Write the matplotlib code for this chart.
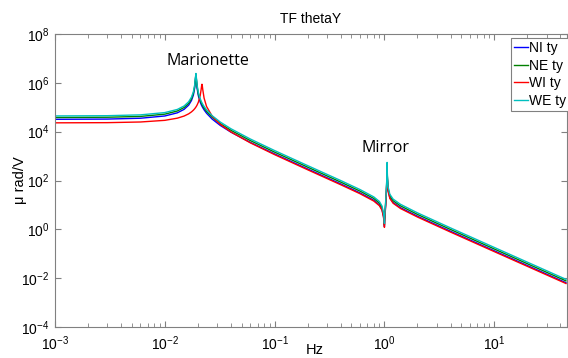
import matplotlib
matplotlib.use("Agg")
from matplotlib import pyplot as plt
from matplotlib.ticker import LogLocator, NullLocator

# frequency points (Hz)
freq = [0.001, 0.003, 0.006, 0.01, 0.013, 0.015, 0.0165, 0.0175, 0.0182, 0.0187,
        0.019, 0.0192, 0.0194, 0.0197, 0.0202, 0.021, 0.0214, 0.0217, 0.0218, 0.0219,
        0.0222, 0.0228, 0.024, 0.027, 0.032, 0.04, 0.06, 0.1, 0.2, 0.4,
        0.6, 0.8, 0.9, 0.95, 0.98, 0.995, 1.0, 1.005, 1.02, 1.04,
        1.052, 1.058, 1.064, 1.08, 1.12, 1.2, 1.4, 2, 4, 10,
        20, 45]

ni_ty = [3.21e4, 3.28e4, 3.55e4, 4.39e4, 5.91e4, 8.21e4, 1.224e5, 1.891e5, 3.13e5, 6.02e5,
         1.277e6, 2.24e6, 1.254e6, 5.86e5, 2.96e5, 1.63e5, 1.32e5, 1.152e5, 1.106e5, 1.063e5,
         9.50e4, 7.80e4, 5.69e4, 3.27e4, 1.80e4, 9.58e3, 3.65e3, 1.224e3, 296, 72.4,
         30.9, 15.5, 10.0, 6.58, 3.49, 2.0, 1.29, 2.33, 6.51, 26.4,
         98.2, 400, 118.8, 40.1, 19.8, 12.6, 7.69, 3.44, 0.832, 0.1322,
         0.0330, 0.00652]

ne_ty = [3.81e4, 3.90e4, 4.21e4, 5.21e4, 7.02e4, 9.75e4, 1.453e5, 2.246e5, 3.71e5, 7.05e5,
         1.436e6, 2.28e6, 1.410e6, 6.86e5, 3.52e5, 1.934e5, 1.569e5, 1.368e5, 1.314e5, 1.262e5,
         1.128e5, 9.26e4, 6.76e4, 3.89e4, 2.14e4, 1.138e4, 4.34e3, 1.453e3, 352, 86.0,
         36.7, 18.4, 11.9, 7.81, 4.14, 2.37, 1.53, 2.76, 7.73, 31.3,
         116.6, 475, 141, 47.6, 23.6, 14.9, 9.13, 4.08, 0.988, 0.157,
         0.0392, 0.00774]

wi_ty = [2.30e4, 2.34e4, 2.49e4, 2.91e4, 3.57e4, 4.37e4, 5.38e4, 6.47e4, 7.57e4, 8.67e4,
         9.52e4, 1.020e5, 1.098e5, 1.244e5, 1.603e5, 3.01e5, 5.16e5, 8.28e5, 8.74e5, 8.21e5,
         5.04e5, 2.35e5, 1.074e5, 4.31e4, 1.992e4, 9.72e3, 3.50e3, 1.147e3, 275, 67.1,
         28.7, 14.4, 9.28, 6.10, 3.23, 1.84, 1.2, 2.15, 6.03, 24.4,
         91.0, 370, 110, 37.1, 18.4, 11.7, 7.13, 3.19, 0.771, 0.1225,
         0.0306, 0.00604]

we_ty = [4.41e4, 4.51e4, 4.88e4, 6.04e4, 8.13e4, 1.129e5, 1.683e5, 2.60e5, 4.28e5, 8.10e5,
         1.60e6, 2.42e6, 1.575e6, 7.88e5, 4.07e5, 2.24e5, 1.817e5, 1.584e5, 1.521e5, 1.462e5,
         1.306e5, 1.073e5, 7.82e4, 4.50e4, 2.475e4, 1.317e4, 5.02e3, 1.683e3, 407, 99.6,
         42.5, 21.3, 13.8, 9.05, 4.80, 2.74, 1.77, 3.19, 8.95, 36.3,
         135, 550, 163, 55.1, 27.3, 17.3, 10.6, 4.73, 1.144, 0.1818,
         0.0454, 0.00896]

labels = ["NI ty", "NE ty", "WI ty", "WE ty"]
colors = ["#0000ff", "#008000", "#ff0000", "#00bfbf"]

plt.rcParams['font.family'] = ['Liberation Sans', 'DejaVu Sans']
plt.rcParams['mathtext.default'] = 'regular'

fig = plt.figure(figsize=(5.68, 3.58), dpi=100)
ax = fig.add_axes([55 / 568, 1 - 327 / 358, 512 / 568, 293 / 358])

for vals, lab, col in zip([ni_ty, ne_ty, wi_ty, we_ty], labels, colors):
    ax.loglog(freq, vals, color=col, lw=1.0, label=lab)

ax.set_xlim(1e-3, 46)
ax.set_ylim(1e-4, 1e8)
ax.set_yticks([1e-4, 1e-2, 1e0, 1e2, 1e4, 1e6, 1e8])
ax.yaxis.set_minor_locator(NullLocator())
ax.xaxis.set_major_locator(LogLocator(base=10, numticks=20))
ax.xaxis.set_minor_locator(LogLocator(base=10, subs=range(2, 10), numticks=20))

for sp in ax.spines.values():
    sp.set_color("#808080")
    sp.set_linewidth(0.8)
ax.tick_params(which='both', direction='in', top=True, right=True, color="#808080",
               labelsize=10, labelcolor='black')
ax.tick_params(axis='x', pad=5)
ax.tick_params(axis='y', pad=4)
ax.tick_params(which='major', length=4)
ax.tick_params(which='minor', length=3)

ax.set_title("TF thetaY", fontsize=10, pad=8)
ax.set_xlabel("Hz", fontsize=10.5, va='center')
ax.xaxis.set_label_coords(0.508, -0.078)
ax.set_ylabel("μ rad/V", fontsize=10.5, va='center')
ax.yaxis.set_label_coords(-0.068, 0.5)

# peak annotations
ax.text(0.0246, 7.5e6, "Marionette", fontsize=11.5, family="Open Sans", ha='center', va='center')
ax.text(1.02, 2.1e3, "Mirror", fontsize=11.5, family="Open Sans", ha='center', va='center')

leg = ax.legend(loc='upper left', bbox_to_anchor=(511 / 568, 1 - 38 / 358),
                bbox_transform=fig.transFigure, fontsize=10, handlelength=1.0,
                handletextpad=0.1, labelspacing=0.27, borderpad=0.2,
                fancybox=False, framealpha=1, borderaxespad=0)
leg.get_frame().set_edgecolor("#808080")
leg.get_frame().set_linewidth(0.8)

fig.savefig("out.png", dpi=100)
